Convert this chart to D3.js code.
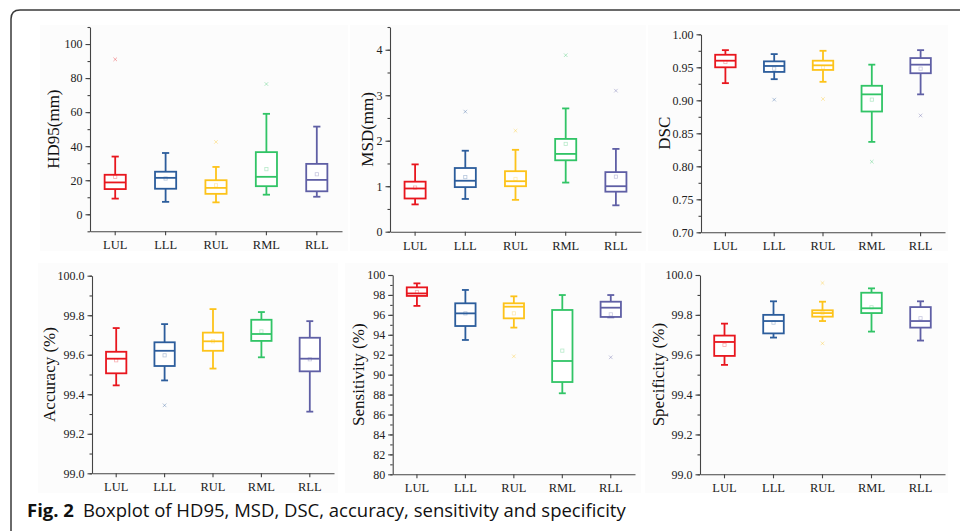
<!DOCTYPE html>
<html lang="en">
<head>
<meta charset="UTF-8">
<title>Boxplot of HD95, MSD, DSC, accuracy, sensitivity and specificity</title>
<script src="https://d3js.org/d3.v7.min.js"></script>
<style>
  body { margin: 0; background: #fff; }
  svg { display: block; }
  .tick text { font-family: "Liberation Serif", "Times New Roman", serif; fill: #222; }
  .axis path, .axis line { stroke: #444; }
  .ytitle { font-family: "Liberation Serif", "Times New Roman", serif; fill: #111; }
  .caption { font-family: "Open Sans", sans-serif; fill: #111; }
</style>
</head>
<body>
<svg width="960" height="531"></svg>
<script>
// categories and colours
const lobes = ["LUL", "LLL", "RUL", "RML", "RLL"];
const lobeColors = ["#e8161e", "#2c5d9c", "#fdc31a", "#31c466", "#5f5fa5"];

// each row: [lower whisker, Q1, median, Q3, upper whisker, mean, outliers]
const hd95 = [
  [9.2, 14.8, 18.7, 23.2, 33.9, 22.0, [91]],
  [7.3, 15.0, 21.4, 25.0, 36.0, 21.0, []],
  [7.0, 12.0, 15.5, 20.0, 27.8, 17.0, [42.5]],
  [11.5, 16.5, 22.0, 36.5, 59.0, 26.5, [76.5]],
  [10.3, 13.5, 20.2, 29.6, 51.5, 23.5, []]
];
const msd = [
  [0.60, 0.73, 0.95, 1.10, 1.48, 0.97, []],
  [0.72, 0.98, 1.12, 1.40, 1.78, 1.20, [2.64]],
  [0.70, 1.00, 1.11, 1.33, 1.80, 1.16, [2.22]],
  [1.08, 1.57, 1.71, 2.04, 2.71, 1.93, [3.88]],
  [0.58, 0.88, 1.00, 1.31, 1.82, 1.21, [3.10]]
];
const dsc = [
  [0.926, 0.950, 0.960, 0.969, 0.976, 0.958, []],
  [0.932, 0.943, 0.952, 0.959, 0.970, 0.948, [0.901]],
  [0.928, 0.946, 0.953, 0.960, 0.975, 0.950, [0.902]],
  [0.837, 0.883, 0.909, 0.922, 0.954, 0.901, [0.807]],
  [0.909, 0.941, 0.954, 0.964, 0.976, 0.948, [0.877]]
];
const accuracy = [
  [99.445, 99.506, 99.580, 99.615, 99.735, 99.572, []],
  [99.470, 99.543, 99.620, 99.663, 99.755, 99.597, [99.344]],
  [99.530, 99.620, 99.668, 99.712, 99.831, 99.668, []],
  [99.587, 99.670, 99.705, 99.777, 99.816, 99.718, []],
  [99.312, 99.516, 99.580, 99.686, 99.770, 99.577, []]
];
const sensitivity = [
  [96.9, 97.9, 98.15, 98.76, 99.16, 98.3, []],
  [93.48, 94.88, 96.15, 97.16, 98.5, 96.15, []],
  [94.72, 95.65, 96.82, 97.16, 97.86, 96.15, [91.84]],
  [88.13, 89.26, 91.37, 96.49, 97.99, 92.41, []],
  [95.75, 95.79, 96.72, 97.32, 97.99, 96.05, [91.74]]
];
const specificity = [
  [99.549, 99.594, 99.664, 99.696, 99.756, 99.649, []],
  [99.686, 99.707, 99.769, 99.800, 99.868, 99.761, []],
  [99.769, 99.791, 99.809, 99.823, 99.866, 99.810, [99.960, 99.657]],
  [99.716, 99.809, 99.833, 99.911, 99.933, 99.838, []],
  [99.671, 99.736, 99.769, 99.839, 99.868, 99.783, []]
];

// axis settings for each panel
const panels = [
  {title: "HD95(mm)", data: hd95, domain: [-10, 110], major: d3.range(0, 101, 20), minor: d3.range(-10, 111, 10), fmt: d3.format("d"),
   x: [90, 342], y: [231.3, 27], bg: [40, 25, 308, 226], titleX: 53},
  {title: "MSD(mm)", data: msd, domain: [0, 4.5], major: d3.range(0, 5, 1), minor: d3.range(0, 4.6, 0.5), fmt: d3.format("d"),
   x: [390, 641], y: [231.7, 27], bg: [350, 25, 296, 226], titleX: 367},
  {title: "DSC", data: dsc, domain: [0.70, 1.00], major: d3.range(0.70, 1.001, 0.05), minor: d3.range(0.70, 1.001, 0.025), fmt: d3.format(".2f"),
   x: [701, 945], y: [232.3, 34.3], bg: [648, 25, 300, 226], titleX: 664},
  {title: "Accuracy (%)", data: accuracy, domain: [99, 100], major: d3.range(99, 100.01, 0.2), minor: d3.range(99, 100.01, 0.1), fmt: d3.format(".1f"),
   x: [92, 334], y: [473.3, 275.7], bg: [38, 263, 300, 230], titleX: 49},
  {title: "Sensitivity (%)", data: sensitivity, domain: [80, 100], major: d3.range(80, 101, 2), minor: d3.range(80, 101, 1), fmt: d3.format("d"),
   x: [392.7, 635], y: [474.3, 275], bg: [345, 263, 296, 230], titleX: 358},
  {title: "Specificity (%)", data: specificity, domain: [99, 100], major: d3.range(99, 100.01, 0.2), minor: d3.range(99, 100.01, 0.1), fmt: d3.format(".1f"),
   x: [700, 945], y: [474.3, 275], bg: [645, 263, 303, 230], titleX: 658}
];

const svg = d3.select("svg");

// outer frame, rounded top-left corner
svg.append("path")
  .attr("d", "M11,531 L11,19 Q11,10 20,10 L960,10")
  .attr("fill", "none")
  .attr("stroke", "#3a3a3a")
  .attr("stroke-width", 1.5);

panels.forEach(p => {
  const g = svg.append("g");

  // faint panel background
  g.append("rect")
    .attr("x", p.bg[0]).attr("y", p.bg[1])
    .attr("width", p.bg[2]).attr("height", p.bg[3])
    .attr("fill", "#fcfcfc");

  const x = d3.scaleBand().domain(lobes).range(p.x);
  const y = d3.scaleLinear().domain(p.domain).range(p.y);

  // minor ticks
  g.append("g")
    .attr("class", "axis")
    .attr("transform", `translate(${p.x[0]},0)`)
    .call(d3.axisLeft(y).tickValues(p.minor).tickSize(2.5).tickFormat(""))
    .call(a => a.select(".domain").remove());

  // y axis
  g.append("g")
    .attr("class", "axis")
    .attr("transform", `translate(${p.x[0]},0)`)
    .call(d3.axisLeft(y).tickValues(p.major).tickSize(4.5).tickSizeOuter(0).tickPadding(3).tickFormat(p.fmt))
    .call(a => a.selectAll("text").style("font-size", "12px"));

  // x axis
  g.append("g")
    .attr("class", "axis")
    .attr("transform", `translate(0,${p.y[0]})`)
    .call(d3.axisBottom(x).tickSize(4).tickSizeOuter(0).tickPadding(5))
    .call(a => a.selectAll("text").style("font-size", "12.5px"));

  g.selectAll(".axis path, .axis line").attr("stroke-width", 1.1);

  // y title
  const cy = (p.y[0] + p.y[1]) / 2;
  g.append("text")
    .attr("class", "ytitle")
    .attr("transform", `translate(${p.titleX},${cy}) rotate(-90)`)
    .attr("text-anchor", "middle")
    .attr("dy", "0.35em")
    .style("font-size", "17px")
    .text(p.title);

  const bw = x.bandwidth() * 0.42;
  const cw = bw * 0.34;

  const box = g.selectAll("g.box")
    .data(p.data)
    .join("g")
    .attr("class", "box")
    .attr("transform", (d, i) => `translate(${x(lobes[i]) + x.bandwidth() / 2},0)`)
    .attr("stroke", (d, i) => lobeColors[i])
    .attr("fill", "none")
    .attr("stroke-width", 1.8);

  // whiskers
  box.append("line").attr("x1", 0).attr("x2", 0)
    .attr("y1", d => y(d[0])).attr("y2", d => y(d[1]));
  box.append("line").attr("x1", 0).attr("x2", 0)
    .attr("y1", d => y(d[3])).attr("y2", d => y(d[4]));
  // caps
  box.append("line").attr("x1", -cw / 2).attr("x2", cw / 2)
    .attr("y1", d => y(d[0])).attr("y2", d => y(d[0]));
  box.append("line").attr("x1", -cw / 2).attr("x2", cw / 2)
    .attr("y1", d => y(d[4])).attr("y2", d => y(d[4]));
  // box
  box.append("rect")
    .attr("x", -bw / 2).attr("width", bw)
    .attr("y", d => y(d[3]))
    .attr("height", d => y(d[1]) - y(d[3]))
    .attr("fill", "#fff");
  // median
  box.append("line").attr("x1", -bw / 2).attr("x2", bw / 2)
    .attr("y1", d => y(d[2])).attr("y2", d => y(d[2]));
  // mean
  box.append("rect")
    .attr("x", -1.6).attr("width", 3.2)
    .attr("y", d => y(d[5]) - 1.6).attr("height", 3.2)
    .attr("stroke-width", 0.8)
    .attr("stroke-opacity", 0.35);
  // outliers
  box.each(function(d) {
    d3.select(this).selectAll("path.out")
      .data(d[6])
      .join("path")
      .attr("class", "out")
      .attr("d", v => `M-1.8,${y(v) - 1.8}L1.8,${y(v) + 1.8}M-1.8,${y(v) + 1.8}L1.8,${y(v) - 1.8}`)
      .attr("stroke-width", 0.9)
      .attr("stroke-opacity", 0.4);
  });
});

// caption
const cap = svg.append("text")
  .attr("class", "caption")
  .attr("x", 27)
  .attr("y", 517)
  .style("font-size", "18.5px");
cap.append("tspan").attr("font-weight", "bold").text("Fig. 2");
cap.append("tspan").attr("dx", 9).text("Boxplot of HD95, MSD, DSC, accuracy, sensitivity and specificity");
</script>
</body>
</html>
